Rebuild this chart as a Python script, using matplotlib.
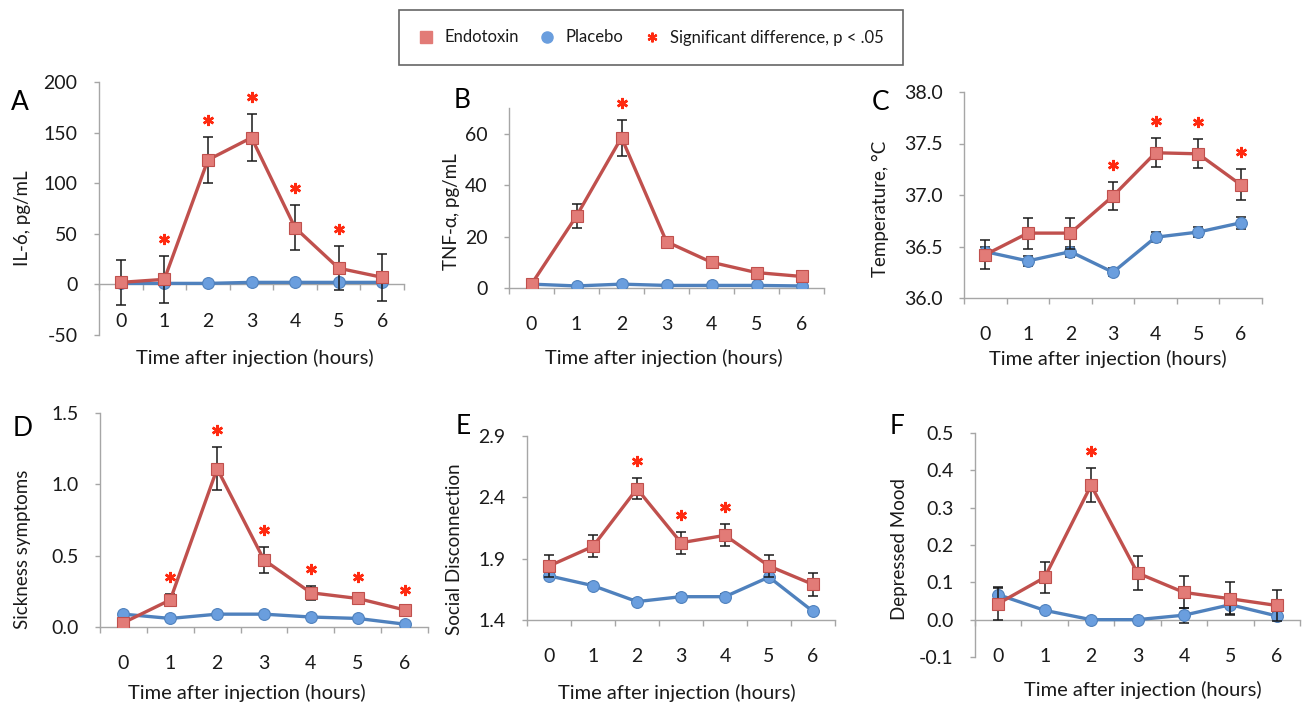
import matplotlib
matplotlib.use("Agg")
import matplotlib.pyplot as plt
from matplotlib.lines import Line2D
from matplotlib.transforms import offset_copy
import numpy as np

plt.rcParams['font.family'] = ['Lato', 'DejaVu Sans']
plt.rcParams['axes.unicode_minus'] = False

# data
hours = [0, 1, 2, 3, 4, 5, 6]

il6_endo = [2, 5, 123, 145, 56, 16, 7]
il6_endo_err = [22, 23, 23, 23, 22, 22, 23]
il6_plac = [1, 1, 1, 2, 2, 2, 2]
il6_plac_err = [1, 1, 1, 1, 1, 1, 1]
il6_sig = [1, 2, 3, 4, 5]

tnf_endo = [1.5, 28, 58.5, 18, 10, 6, 4.5]
tnf_endo_err = [0.8, 4.5, 7, 1.0, 0.8, 0.8, 0.6]
tnf_plac = [1.5, 0.8, 1.5, 1.0, 1.0, 1.0, 0.8]
tnf_plac_err = [0.4, 0.3, 0.4, 0.3, 0.3, 0.3, 0.3]
tnf_sig = [2]

temp_endo = [36.42, 36.63, 36.63, 36.99, 37.41, 37.40, 37.10]
temp_endo_err = [0.14, 0.15, 0.15, 0.14, 0.14, 0.14, 0.15]
temp_plac = [36.45, 36.36, 36.45, 36.25, 36.59, 36.64, 36.73]
temp_plac_err = [0.05, 0.05, 0.05, 0.04, 0.05, 0.05, 0.06]
temp_sig = [3, 4, 5, 6]

sick_endo = [0.03, 0.19, 1.11, 0.47, 0.24, 0.20, 0.12]
sick_endo_err = [0.02, 0.04, 0.15, 0.09, 0.05, 0.03, 0.02]
sick_plac = [0.09, 0.06, 0.09, 0.09, 0.07, 0.06, 0.02]
sick_plac_err = [0.01, 0.01, 0.01, 0.01, 0.01, 0.01, 0.01]
sick_sig = [1, 2, 3, 4, 5, 6]

social_endo = [1.84, 2.00, 2.47, 2.03, 2.09, 1.84, 1.69]
social_endo_err = [0.09, 0.09, 0.085, 0.09, 0.09, 0.09, 0.095]
social_plac = [1.76, 1.68, 1.55, 1.59, 1.59, 1.75, 1.47]
social_plac_err = [0.02, 0.02, 0.02, 0.02, 0.02, 0.02, 0.02]
social_sig = [2, 3, 4]

mood_endo = [0.043, 0.113, 0.36, 0.125, 0.073, 0.056, 0.038]
mood_endo_err = [0.043, 0.042, 0.045, 0.045, 0.043, 0.044, 0.042]
mood_plac = [0.067, 0.025, 0.0, 0.0, 0.012, 0.04, 0.01]
mood_plac_err = [0.02, 0.005, 0.0, 0.0, 0.02, 0.025, 0.01]
mood_sig = [2]

RED = '#c0504d'
RED_FILL = '#e27b77'
BLUE = '#4f81bd'
BLUE_FILL = '#6a9ede'
STAR = '#ff2a10'
SPINE = '#a6a6a6'
TXT = '#1a1a1a'

W, H = 1308, 707
fig = plt.figure(figsize=(W / 100, H / 100), dpi=100)


def fx(x):
    return x / W


def fy(y):
    return 1 - y / H


def panel(l, r, t, b, endo, endo_err, plac, plac_err, sig, ylim, yticks, fmt,
          ylabel, letter, letter_xy, ylabel_xy, xlabel_xy, zero_axis=False):
    ax = fig.add_axes([fx(l), fy(b), (r - l) / W, (b - t) / H])
    ax.errorbar(hours, plac, yerr=plac_err, fmt='none', ecolor=TXT,
                elinewidth=1.1, capsize=3.5, capthick=1.1, zorder=2)
    ax.plot(hours, plac, color=BLUE, lw=2.4, marker='o', ms=8.5,
            mfc=BLUE_FILL, mec=BLUE, mew=0.8, zorder=3)
    ax.errorbar(hours, endo, yerr=endo_err, fmt='none', ecolor=TXT,
                elinewidth=1.1, capsize=3.5, capthick=1.1, zorder=4)
    ax.plot(hours, endo, color=RED, lw=2.4, marker='s', ms=8.5,
            mfc=RED_FILL, mec=RED, mew=0.8, zorder=5)
    # significance stars sit a little above the error bar
    tops = [endo[i] + endo_err[i] for i in sig]
    ax.plot(sig, tops, ls='none', marker=(6, 2, 0), ms=8, mec=STAR, mew=1.8,
            transform=offset_copy(ax.transData, fig, y=17, units='dots'),
            zorder=6, clip_on=False)

    ax.set_xlim(-0.5, 6.5)
    ax.set_ylim(*ylim)
    ax.set_yticks(yticks)
    ax.set_yticklabels([fmt % v for v in yticks])
    ax.set_xticks(hours)
    ax.set_xticks(np.arange(-0.5, 7, 1), minor=True)
    for s in ['top', 'right']:
        ax.spines[s].set_visible(False)
    for s in ['left', 'bottom']:
        ax.spines[s].set_color(SPINE)
        ax.spines[s].set_linewidth(1)
    if zero_axis:
        ax.spines['bottom'].set_position(('data', 0))
    ax.tick_params(axis='x', which='major', length=0, pad=26.5,
                   labelsize=14, labelcolor=TXT)
    ax.tick_params(axis='x', which='minor', length=4, width=1,
                   color=SPINE, direction='out')
    ax.tick_params(axis='y', which='major', length=3.5, width=1,
                   color=SPINE, pad=12, labelsize=14, labelcolor=TXT)
    for lbl in ax.get_xticklabels():
        lbl.set_verticalalignment('center')

    ax.set_ylabel(ylabel, fontsize=13.5, color=TXT)
    ax.yaxis.set_label_coords(fx(ylabel_xy[0]), fy(ylabel_xy[1]),
                              transform=fig.transFigure)
    ax.yaxis.label.set_verticalalignment('center')
    ax.set_xlabel('Time after injection (hours)', fontsize=14.5, color=TXT)
    ax.xaxis.set_label_coords(fx(xlabel_xy[0]), fy(xlabel_xy[1]),
                              transform=fig.transFigure)
    ax.xaxis.label.set_verticalalignment('center')
    fig.text(fx(letter_xy[0]), fy(letter_xy[1]), letter, fontsize=19,
             color='black', ha='center', va='center')
    return ax


panel(99, 404, 82, 335, il6_endo, il6_endo_err, il6_plac, il6_plac_err,
      il6_sig, (-50, 200), [-50, 0, 50, 100, 150, 200], '%d',
      'IL-6, pg/mL', 'A', (20, 102), (23, 218), (255, 358), zero_axis=True)
panel(509, 824, 108, 288, tnf_endo, tnf_endo_err, tnf_plac, tnf_plac_err,
      tnf_sig, (0, 70), [0, 20, 40, 60], '%d',
      'TNF-α, pg/mL', 'B', (462, 100), (452, 212), (664, 358))
panel(964, 1262, 92, 298, temp_endo, temp_endo_err, temp_plac, temp_plac_err,
      temp_sig, (36, 38), [36.0, 36.5, 37.0, 37.5, 38.0], '%.1f',
      'Temperature, °C', 'C', (881, 103), (880, 209), (1108, 359))
panel(100, 428, 413, 627, sick_endo, sick_endo_err, sick_plac, sick_plac_err,
      sick_sig, (0, 1.5), [0.0, 0.5, 1.0, 1.5], '%.1f',
      'Sickness symptoms', 'D', (23, 428), (23, 549), (247, 693))
panel(527, 835, 436, 620, social_endo, social_endo_err, social_plac,
      social_plac_err, social_sig, (1.4, 2.9), [1.4, 1.9, 2.4, 2.9], '%.1f',
      'Social Disconnection', 'E', (463, 427), (455, 549), (677, 693))
panel(975, 1300, 433, 657, mood_endo, mood_endo_err, mood_plac, mood_plac_err,
      mood_sig, (-0.1, 0.5), [-0.1, 0.0, 0.1, 0.2, 0.3, 0.4, 0.5], '%.1f',
      'Depressed Mood', 'F', (897, 427), (899, 549), (1143, 690),
      zero_axis=True)

handles = [
    Line2D([], [], ls='none', marker='s', ms=8, mfc=RED_FILL, mec=RED_FILL),
    Line2D([], [], ls='none', marker='o', ms=8, mfc=BLUE_FILL, mec=BLUE_FILL),
    Line2D([], [], ls='none', marker=(6, 2, 0), ms=7, mec=STAR, mew=1.6),
]
labels = ['Endotoxin', 'Placebo', 'Significant difference, p < .05']
leg = fig.legend(handles, labels, loc='center',
                 bbox_to_anchor=(fx(651), fy(37.5)), ncol=3, fontsize=12,
                 frameon=True, fancybox=False, edgecolor='#404040',
                 borderpad=1.15, handlelength=1.0, handletextpad=0.6,
                 columnspacing=1.2, borderaxespad=0)
leg.get_frame().set_linewidth(1.2)
for t in leg.get_texts():
    t.set_color(TXT)

fig.savefig('out.png', dpi=100)
